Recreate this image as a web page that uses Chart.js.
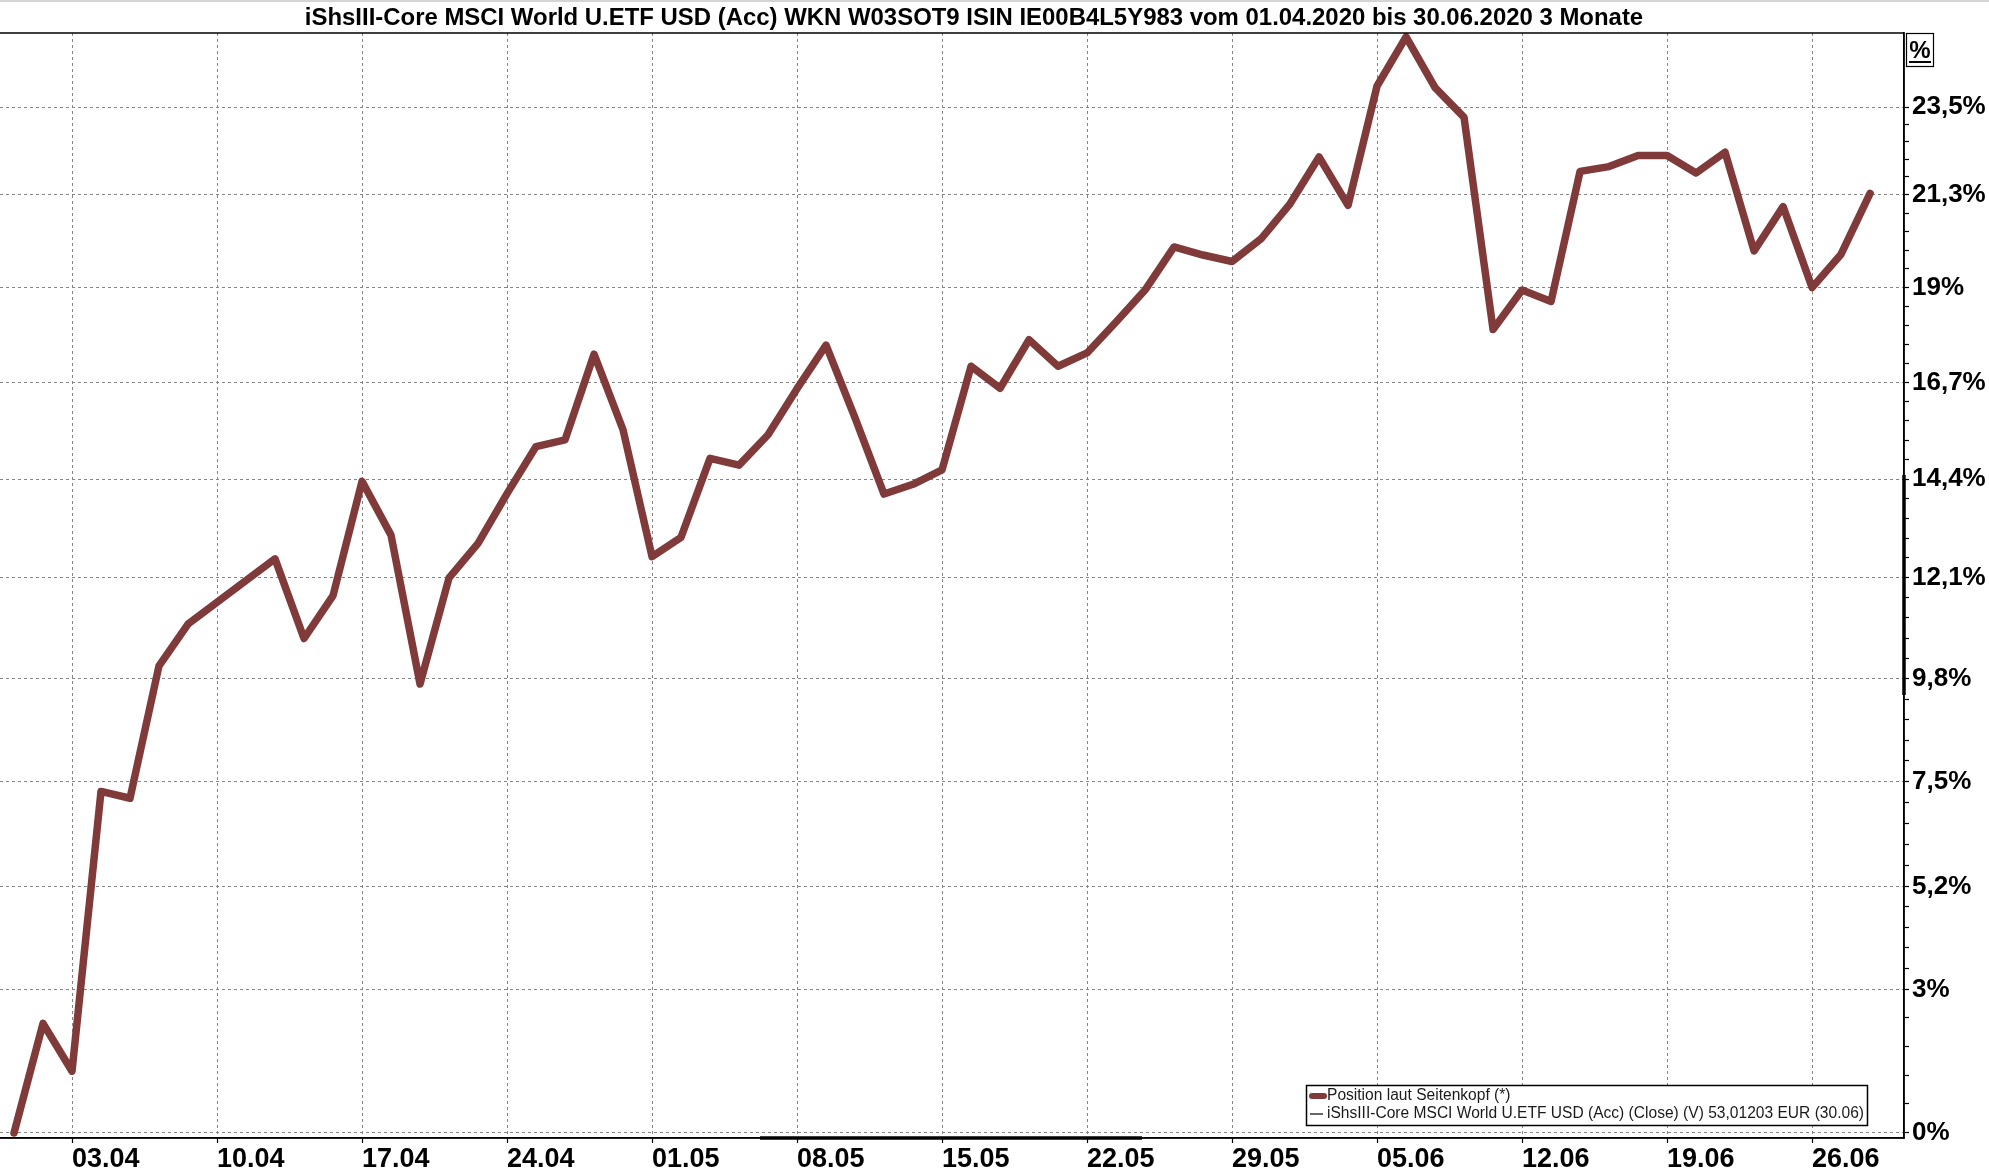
<!DOCTYPE html>
<html><head><meta charset="utf-8">
<script src="https://cdn.jsdelivr.net/npm/chart.js@4.4.1/dist/chart.umd.min.js"></script>
<style>html,body{margin:0;padding:0;background:#fff;overflow:hidden}#wrap{width:1989px;height:1175px;position:relative}</style>
</head><body><div id="wrap"><canvas id="c" width="1989" height="1175"></canvas></div>
<script>
const titleText = "iShsIII-Core MSCI World U.ETF USD (Acc) WKN W03SOT9 ISIN IE00B4L5Y983 vom 01.04.2020 bis 30.06.2020 3 Monate";

const dates = [
 "01.04","02.04","03.04","06.04","07.04","08.04","09.04","10.04","13.04","14.04","15.04","16.04","17.04","20.04","21.04","22.04","23.04","24.04","27.04","28.04","29.04","30.04",
 "01.05","04.05","05.05","06.05","07.05","08.05","11.05","12.05","13.05","14.05","15.05","18.05","19.05","20.05","21.05","22.05","25.05","26.05","27.05","28.05","29.05",
 "01.06","02.06","03.06","04.06","05.06","08.06","09.06","10.06","11.06","12.06","15.06","16.06","17.06","18.06","19.06","22.06","23.06","24.06","25.06","26.06","29.06","30.06"
];

// performance in % since 01.04.2020 (null = no quote, line spans the gap)
const perf = [
 0, 2.28, 1.28, 7.28, 7.13, 10.09, 11.04, null, null, 12.54, 10.71, 11.69, 14.35, 13.09, 9.68, 12.1, 12.9, 14.06, 15.17, 15.33, 17.38, 15.57,
 12.59, 13.04, 14.89, 14.73, 15.45, 16.55, 17.6, 15.85, 14.05, 14.28, 14.62, 17.09, 16.56, 17.73, 17.09, 17.41, 18.16, 18.94, 20.0, 19.8, 19.64,
 20.2, 21.07, 22.24, 21.03, 24.04, 25.3, 24.0, 23.24, 17.98, 18.94, 18.66, 21.88, 22.0, 22.28, 22.28, 21.84, 22.36, 19.9, 21.0, 19.0, 19.82, 21.33
];

const yTickValues = [0, 3, 5.2, 7.5, 9.8, 12.1, 14.4, 16.7, 19, 21.3, 23.5];
const yTickLabels = ["0%", "3%", "5,2%", "7,5%", "9,8%", "12,1%", "14,4%", "16,7%", "19%", "21,3%", "23,5%"];
const xTickLabels = ["03.04","10.04","17.04","24.04","01.05","08.05","15.05","22.05","29.05","05.06","12.06","19.06","26.06"];
const legendLabels = ["Position laut Seitenkopf (*)", "iShsIII-Core MSCI World U.ETF USD (Acc) (Close) (V) 53,01203 EUR (30.06)"];

const LINE = '#813a3a';
const GRID = '#858585';
const FONT = '"Liberation Sans", Arial, sans-serif';

// build y ticks (major + 4 minor between majors), values as index 100+%
const yTicks = [];
for (let i = 0; i < yTickValues.length; i++) {
  yTicks.push({value: 100 + yTickValues[i], minor: false, lab: yTickLabels[i]});
  if (i < yTickValues.length - 1) {
    for (let k = 1; k < 5; k++) {
      const v = yTickValues[i] + (yTickValues[i+1] - yTickValues[i]) * k / 5;
      yTicks.push({value: 100 + v, minor: true, lab: ''});
    }
  }
}
yTicks.sort((a,b)=>a.value-b.value);

const points = perf.map((p, i) => ({x: i, y: p === null ? null : 100 + p}));

const decor = {
  id: 'decor',
  afterDraw(chart) {
    const {ctx, chartArea: a} = chart;
    ctx.save();
    ctx.setLineDash([]);
    ctx.strokeStyle = '#000';
    ctx.lineWidth = 1.5;
    ctx.beginPath();
    ctx.moveTo(0, a.top); ctx.lineTo(a.right, a.top); ctx.lineTo(a.right, a.bottom); ctx.lineTo(0, a.bottom);
    ctx.stroke();
    // thick range markers on axes
    ctx.lineWidth = 3.5;
    ctx.beginPath(); ctx.moveTo(a.right, 475); ctx.lineTo(a.right, 695); ctx.stroke();
    ctx.beginPath(); ctx.moveTo(760, a.bottom); ctx.lineTo(1142, a.bottom); ctx.stroke();

    // top strip
    ctx.fillStyle = '#d4d4d4';
    ctx.fillRect(0, 0, chart.width, 2);

    // title
    let fs = 22;
    ctx.font = 'bold ' + fs + 'px ' + FONT;
    const w = ctx.measureText(titleText).width;
    fs = fs * 1339 / w;
    ctx.font = 'bold ' + fs.toFixed(2) + 'px ' + FONT;
    ctx.fillStyle = '#000';
    ctx.textAlign = 'center';
    ctx.textBaseline = 'middle';
    ctx.fillText(titleText, 974, 18);

    // % box
    ctx.lineWidth = 1.2;
    ctx.strokeRect(1906.5, 33.5, 27, 33);
    ctx.font = 'bold 24px ' + FONT;
    ctx.textAlign = 'center';
    ctx.textBaseline = 'alphabetic';
    ctx.fillText('%', 1920, 58);
    ctx.fillRect(1909, 61, 22, 2);

    // legend box
    const lx = 1306, ly = 1085, lw = 561, lh = 40;
    ctx.fillStyle = '#fff';
    ctx.fillRect(lx, ly, lw, lh);
    ctx.lineWidth = 1.5;
    ctx.strokeStyle = '#000';
    ctx.strokeRect(lx + 0.5, ly + 0.5, lw, lh);
    let lf = 16;
    ctx.font = lf + 'px ' + FONT;
    const w2 = ctx.measureText(legendLabels[1]).width;
    const sx = 537 / w2;
    ctx.fillStyle = '#1a1a1a';
    ctx.textAlign = 'left';
    ctx.textBaseline = 'middle';
    ctx.save(); ctx.translate(1327, 1096); ctx.scale(sx, 1); ctx.fillText(legendLabels[0], 0, 0); ctx.restore();
    ctx.save(); ctx.translate(1327, 1114); ctx.scale(sx, 1); ctx.fillText(legendLabels[1], 0, 0); ctx.restore();
    ctx.strokeStyle = LINE; ctx.lineWidth = 6; ctx.lineCap = 'round';
    ctx.beginPath(); ctx.moveTo(1312, 1096); ctx.lineTo(1324, 1096); ctx.stroke();
    ctx.strokeStyle = '#000'; ctx.lineWidth = 1.2; ctx.lineCap = 'butt';
    ctx.beginPath(); ctx.moveTo(1310, 1114); ctx.lineTo(1323, 1114); ctx.stroke();
    ctx.restore();
  }
};

new Chart(document.getElementById('c'), {
  type: 'line',
  data: {
    datasets: [{
      label: legendLabels[0],
      data: points,
      borderColor: LINE,
      borderWidth: 7.5,
      borderJoinStyle: 'round',
      borderCapStyle: 'round',
      pointRadius: 0,
      tension: 0,
      spanGaps: true,
      fill: false
    }]
  },
  options: {
    responsive: false,
    animation: false,
    devicePixelRatio: 1,
    layout: {padding: {top: 33, left: 0, right: 0, bottom: 0}},
    plugins: {legend: {display: false}, title: {display: false}, tooltip: {enabled: false}},
    scales: {
      x: {
        type: 'linear',
        min: -0.483,
        max: 65.17,
        afterFit(s) { s.height = 37; },
        afterBuildTicks(s) { s.ticks = xTickLabels.map(l => ({value: dates.indexOf(l)})); },
        grid: {color: GRID, lineWidth: 1, drawTicks: true, tickLength: 5, tickColor: '#000', tickWidth: 1.2},
        border: {display: true, color: '#000', width: 1.5, dash: [3, 3]},
        ticks: {
          autoSkip: false, maxRotation: 0, align: 'start', padding: 0,
          color: '#000', font: {family: FONT, size: 27, weight: 'bold'},
          callback: (v) => dates[v]
        }
      },
      y: {
        type: 'logarithmic',
        position: 'right',
        min: 99.897,
        max: 125.40,
        afterFit(s) { s.width = 85; },
        afterBuildTicks(s) { s.ticks = yTicks.map(t => ({value: t.value, minor: t.minor, lab: t.lab})); },
        grid: {
          color: (c) => (c.tick && c.tick.minor) ? 'rgba(0,0,0,0)' : GRID,
          lineWidth: 1, drawTicks: true, tickLength: 5, tickColor: '#000', tickWidth: 1.2
        },
        border: {display: true, color: '#000', width: 1.5, dash: [3, 3]},
        ticks: {
          autoSkip: false, padding: 3, color: '#000',
          font: {family: FONT, size: 26, weight: 'bold'},
          callback: (v, i, ticks) => ticks[i].lab
        }
      }
    }
  },
  plugins: [decor]
});
</script></body></html>
